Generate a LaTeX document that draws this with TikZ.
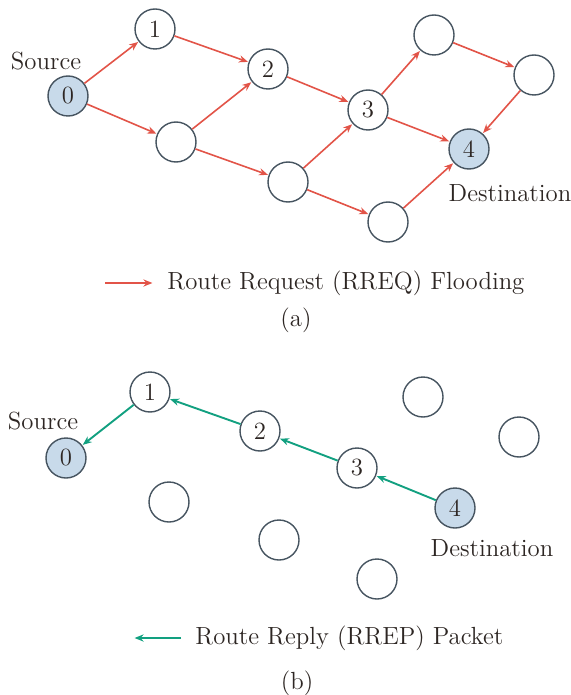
\documentclass[tikz,border=0pt]{standalone}
\usetikzlibrary{arrows.meta}
\definecolor{edgegray}{RGB}{70,84,96}
\definecolor{endfill}{RGB}{200,218,234}
\definecolor{reqred}{RGB}{226,84,72}
\definecolor{reptea}{RGB}{18,160,128}
\definecolor{txt}{RGB}{45,38,35}
\tikzset{
  peer/.style={circle, draw=edgegray, line width=0.7pt, fill=white, minimum size=20pt, inner sep=0pt, text=txt},
  endpt/.style={peer, fill=endfill},
  lbl/.style={text=txt, inner sep=0pt},
  rreq/.style={draw=reqred, line width=0.8pt, -{Stealth[length=4.5pt,width=3.6pt]}, shorten >=0.3pt},
  rrep/.style={draw=reptea, line width=0.95pt, -{Stealth[length=4.5pt,width=3.6pt]}, shorten >=0.3pt},
}
\begin{document}
\begin{tikzpicture}[x=0.5pt, y=-0.5pt, font=\fontsize{12.4}{14.5}\selectfont]
\useasboundingbox (0,0) rectangle (571,695);

% ---- (a) route request flooding ----
\node[endpt] (a0) at (68,96) {0};
\node[peer] (a1) at (155,29) {1};
\node[peer] (a2) at (268,69) {2};
\node[peer] (a3) at (368,110) {3};
\node[endpt] (a4) at (469,149) {4};
\node[peer] (ap) at (176,142) {};
\node[peer] (aq) at (288,182) {};
\node[peer] (ar) at (388,222) {};
\node[peer] (as) at (434,35) {};
\node[peer] (at) at (534,75) {};
\node[lbl] (asrc) at (46,61) {Source};
\node[lbl] (adst) at (510,193) {Destination};

\draw[rreq] (a0) -- (a1);
\draw[rreq] (a0) -- (ap);
\draw[rreq] (a1) -- (a2);
\draw[rreq] (ap) -- (a2);
\draw[rreq] (ap) -- (aq);
\draw[rreq] (a2) -- (a3);
\draw[rreq] (aq) -- (a3);
\draw[rreq] (aq) -- (ar);
\draw[rreq] (a3) -- (as);
\draw[rreq] (a3) -- (a4);
\draw[rreq] (as) -- (at);
\draw[rreq] (at) -- (a4);
\draw[rreq] (ar) -- (a4);

\coordinate (klA) at (105,283);
\coordinate (krA) at (153,283);
\draw[rreq] (klA) -- (krA);
\node[lbl, anchor=west] (keyA) at (167,283) {Route Request (RREQ) Flooding};
\node[lbl] (capA) at (296,320) {(a)};

% ---- (b) route reply packet ----
\node[endpt] (b0) at (66,458) {0};
\node[peer] (b1) at (150,392) {1};
\node[peer] (b2) at (260,431) {2};
\node[peer] (b3) at (357,468) {3};
\node[endpt] (b4) at (455,508) {4};
\node[peer] (bp) at (169,502) {};
\node[peer] (bq) at (279,540) {};
\node[peer] (br) at (377,579) {};
\node[peer] (bs) at (423,397) {};
\node[peer] (bt) at (519,437) {};
\node[lbl] (bsrc) at (43,421) {Source};
\node[lbl] (bdst) at (492,548) {Destination};

\draw[rrep] (b4) -- (b3);
\draw[rrep] (b3) -- (b2);
\draw[rrep] (b2) -- (b1);
\draw[rrep] (b1) -- (b0);

\coordinate (klB) at (181,638);
\coordinate (krB) at (134,638);
\draw[rrep] (klB) -- (krB);
\node[lbl, anchor=west] (keyB) at (195,638) {Route Reply (RREP) Packet};
\node[lbl] (capB) at (297,683) {(b)};
\end{tikzpicture}
\end{document}
